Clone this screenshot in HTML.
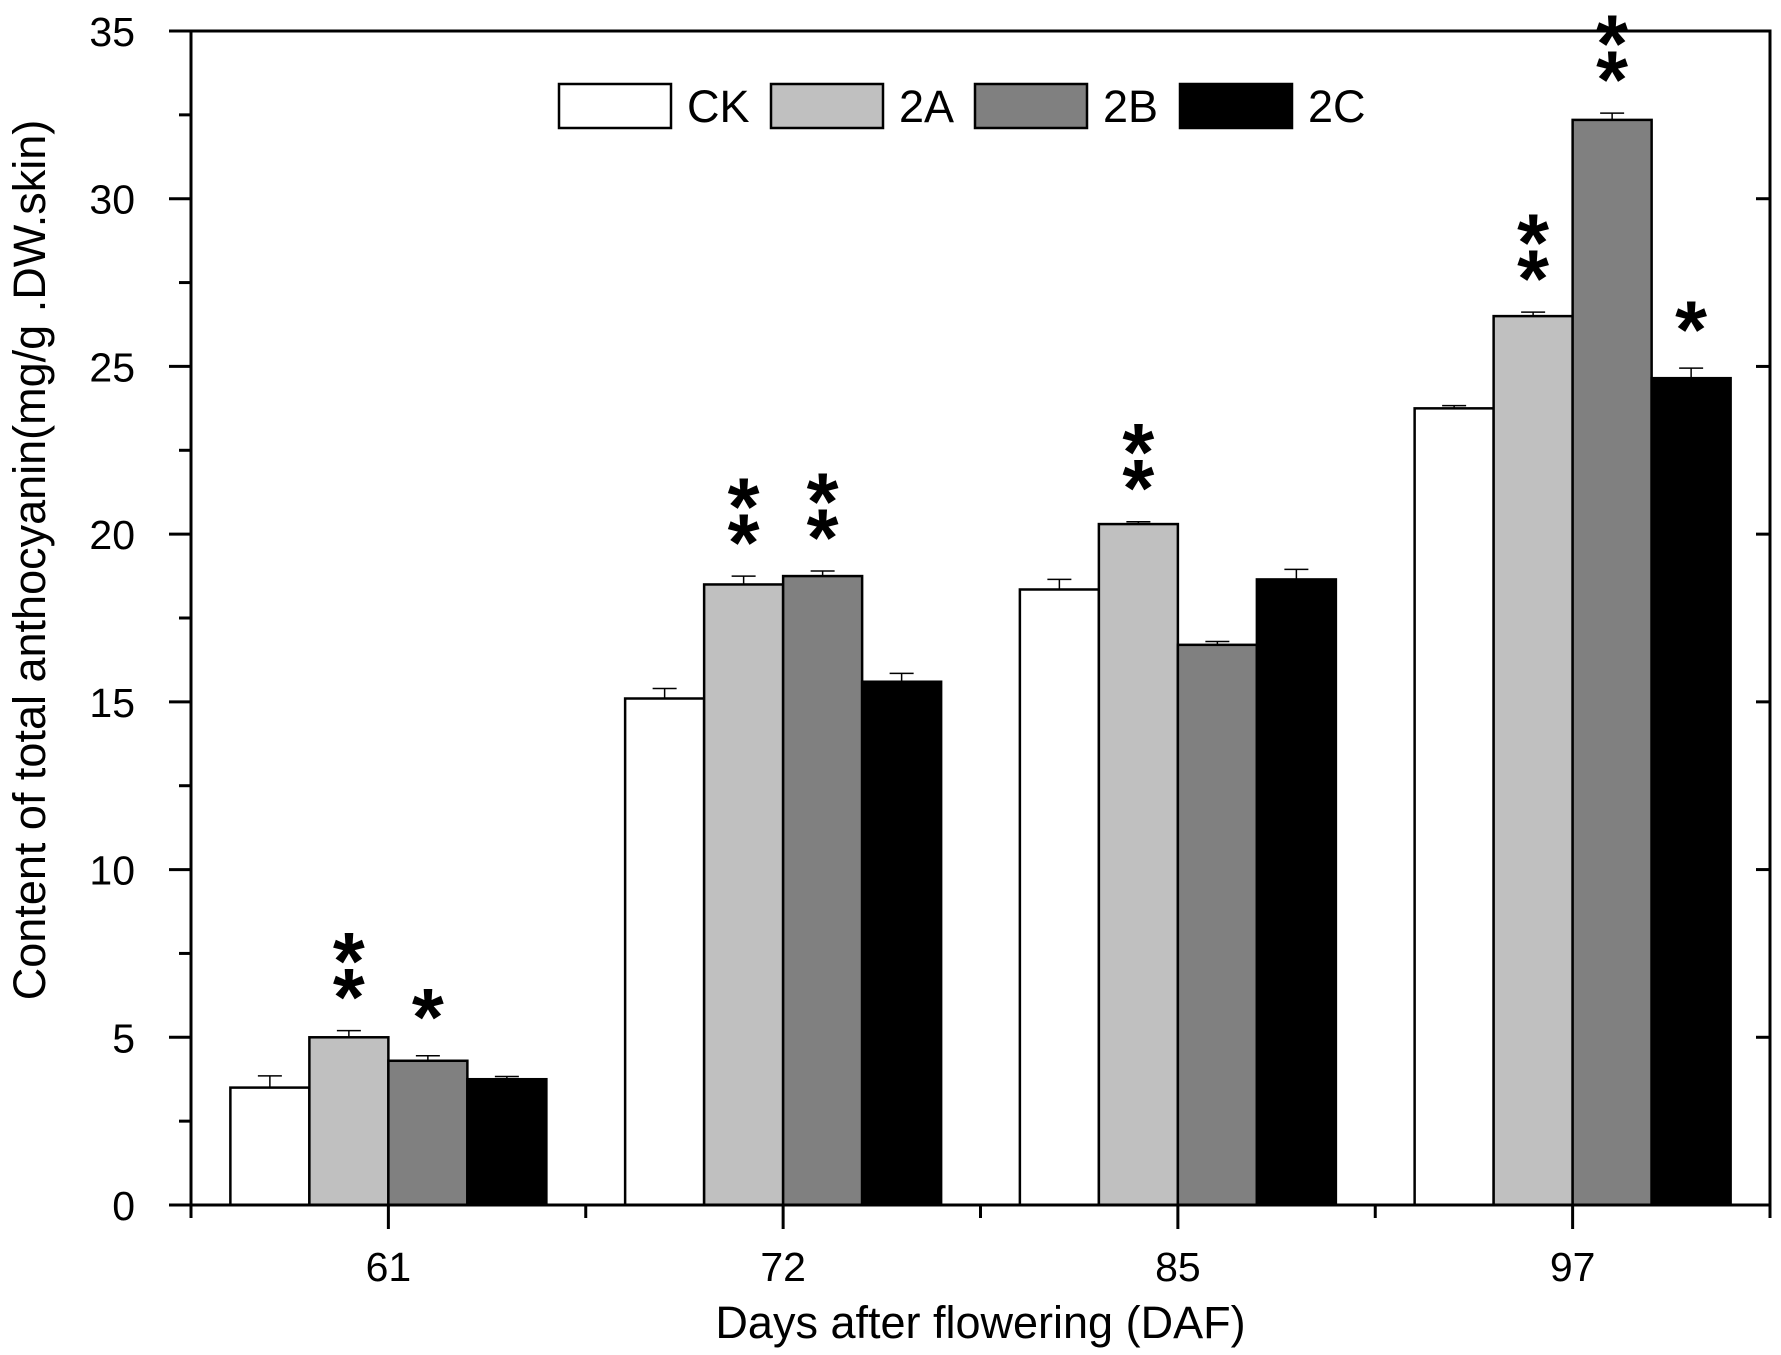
<!DOCTYPE html>
<html><head><meta charset="utf-8"><style>
html,body{margin:0;padding:0;background:#fff;}
svg{display:block;font-family:"Liberation Sans",Arial,sans-serif;}
</style></head><body>
<svg id="chart" width="1781" height="1355" viewBox="0 0 1781 1355" xmlns="http://www.w3.org/2000/svg">
<g id="plot"></g>
</svg>
<script>
const categories = ["61","72","85","97"];
const seriesNames = ["CK","2A","2B","2C"];
const seriesColors = ["#ffffff","#c0c0c0","#808080","#000000"];
const valuesCK = [3.5, 15.1, 18.35, 23.75];
const values2A = [5.0, 18.5, 20.3, 26.5];
const values2B = [4.3, 18.75, 16.7, 32.35];
const values2C = [3.75, 15.6, 18.65, 24.65];
const errCK = [0.35, 0.3, 0.3, 0.08];
const err2A = [0.2, 0.25, 0.07, 0.12];
const err2B = [0.15, 0.15, 0.1, 0.2];
const err2C = [0.08, 0.25, 0.3, 0.3];
const starsCK = [0,0,0,0];
const stars2A = [2,2,2,2];
const stars2B = [1,2,0,2];
const stars2C = [0,0,0,1];
const yTicks = [0,5,10,15,20,25,30,35];

const NS="http://www.w3.org/2000/svg";
const plot=document.getElementById('plot');
const X0=191, X1=1770, Y0=1205, YT=31, YMAX=35;
const catW=(X1-X0)/categories.length, barW=79;
function y(v){return Y0-(v/YMAX)*(Y0-YT);}
function catCenter(i){return X0+catW*(i+0.5);}
function mk(tag,attrs,parent){const e=document.createElementNS(NS,tag);for(const k in attrs)e.setAttribute(k,attrs[k]);(parent||plot).appendChild(e);return e;}

const allVals=[valuesCK,values2A,values2B,values2C];
const allErr=[errCK,err2A,err2B,err2C];
const allStars=[starsCK,stars2A,stars2B,stars2C];

allVals.forEach((vals,s)=>{
  vals.forEach((v,i)=>{
    const x=catCenter(i)-2*barW+s*barW;
    const top=y(v+allErr[s][i]);
    const el=mk('line',{x1:x+barW/2,x2:x+barW/2,y1:y(v),y2:top,stroke:'#000','stroke-width':1.5});
    
    
    const cap=mk('line',{x1:x+barW/2-12,x2:x+barW/2+12,y1:top,y2:top,stroke:'#000','stroke-width':1.5});
    
    
    const r=mk('rect',{x:x,y:y(v),width:barW,height:Y0-y(v),fill:seriesColors[s],stroke:'#000','stroke-width':2.5});
    
    
    const n=allStars[s][i];
    const offs = n===2 ? [43,79] : (n===1 ? [48] : []);
    offs.forEach(o=>{
      const t=mk('text',{x:x+barW/2,y:top-o+38,'text-anchor':'middle','font-size':82,'font-weight':'bold'});
      t.textContent='*';
      
      
    });
  });
});

const ax=mk('g',{});


mk('rect',{x:X0,y:YT,width:X1-X0,height:Y0-YT,fill:'none',stroke:'#000','stroke-width':3},ax);
yTicks.forEach(v=>{
  mk('line',{x1:X0-22,x2:X0,y1:y(v),y2:y(v),stroke:'#000','stroke-width':3},ax);
  mk('line',{x1:X1-14,x2:X1,y1:y(v),y2:y(v),stroke:'#000','stroke-width':3},ax);
  if(v<YMAX){
    mk('line',{x1:X0-12,x2:X0,y1:y(v+2.5),y2:y(v+2.5),stroke:'#000','stroke-width':3},ax);
  }
  const t=mk('text',{x:X0-56,y:y(v)+15,'text-anchor':'end','font-size':41},ax);
  t.textContent=v;
  
  
});
categories.forEach((c,i)=>{
  const cx=catCenter(i);
  mk('line',{x1:cx,x2:cx,y1:Y0,y2:Y0+24,stroke:'#000','stroke-width':3},ax);
  mk('line',{x1:X0+catW*(i+1),x2:X0+catW*(i+1),y1:Y0,y2:Y0+13,stroke:'#000','stroke-width':3},ax);
  const t=mk('text',{x:cx,y:Y0+76,'text-anchor':'middle','font-size':41},ax);
  t.textContent=c;
  
  
});
mk('line',{x1:X0,x2:X0,y1:Y0,y2:Y0+13,stroke:'#000','stroke-width':3},ax);

const lg=mk('g',{});


const legBoxX=[559,771,975,1180];
seriesNames.forEach((n,s)=>{
  const r=mk('rect',{x:legBoxX[s],y:84,width:112,height:44,fill:seriesColors[s],stroke:'#000','stroke-width':2.5},lg);
  
  
  const t=mk('text',{x:legBoxX[s]+128,y:122,'font-size':45},lg);
  t.textContent=n;
  
  
});

const xt=mk('text',{x:(X0+X1)/2,y:1338,'text-anchor':'middle','font-size':45});
xt.textContent='Days after flowering (DAF)';


const yt=mk('text',{x:0,y:0,'text-anchor':'middle','font-size':45,transform:'translate(45,560) rotate(-90)'});
yt.textContent='Content of total anthocyanin(mg/g .DW.skin)';


</script>
</body></html>
